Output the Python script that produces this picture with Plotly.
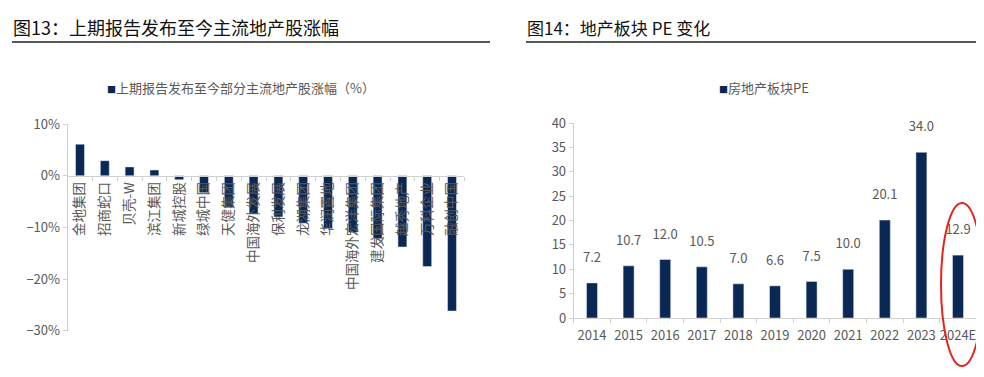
import plotly.graph_objects as go

# ---- data ----
stocks = ["金地集团", "招商蛇口", "贝壳-W", "滨江集团", "新城控股", "绿城中国", "天健集团",
          "中国海外发展", "保利发展", "龙湖集团", "华润置地", "中国海外宏洋集团", "建发国际集团",
          "越秀地产", "万科企业", "融创中国"]
stock_change = [6.1, 2.9, 1.7, 1.1, -0.8, -3.3, -6.2, -7.4, -8.0, -9.2, -10.2, -11.0, -12.2,
                -13.8, -17.6, -26.2]
left_yticks = [10, 0, -10, -20, -30]
left_yticktext = ["10%", "0%", "\u221210%", "\u221220%", "\u221230%"]

years = ["2014", "2015", "2016", "2017", "2018", "2019", "2020", "2021", "2022", "2023", "2024E"]
pe = [7.2, 10.7, 12.0, 10.5, 7.0, 6.6, 7.5, 10.0, 20.1, 34.0, 12.9]
right_yticks = [0, 5, 10, 15, 20, 25, 30, 35, 40]

NAVY = "#0b2855"
GRAY = "#595959"
AX = "#d0d0d0"
FONT = "Noto Sans CJK SC, Noto Sans, sans-serif"
W, H = 984, 377
OFF = 8  # page body margin offset

def px_y(py):
    return 1 - (py - OFF) / H

def px_x(pxx):
    return (pxx - OFF) / W

fig = go.Figure()

fig.add_trace(go.Bar(x=stocks, y=stock_change, marker_color=NAVY, width=0.36,
                     xaxis="x", yaxis="y", showlegend=False))
fig.add_trace(go.Bar(x=years, y=pe, marker_color=NAVY, width=0.3,
                     text=[f"{v:.1f}<br><span style='font-size:3px'> </span>" for v in pe],
                     textposition="outside", constraintext="none",
                     textfont=dict(size=13, color=GRAY, family=FONT), cliponaxis=False,
                     xaxis="x2", yaxis="y2", showlegend=False))

# left plot geometry
ly0, ly1 = px_y(330.7), px_y(124)
ylo, yhi = -30, 10
zero_pos = ly0 + (0 - ylo) / (yhi - ylo) * (ly1 - ly0)

fig.update_layout(
    width=W, height=H, autosize=False,
    margin=dict(l=0, r=0, t=0, b=0, pad=0, autoexpand=False),
    paper_bgcolor="white", plot_bgcolor="white",
    font=dict(family=FONT, color=GRAY, size=12),
    xaxis=dict(domain=[px_x(67.6), px_x(464.4)], anchor="free", position=zero_pos,
               showline=True, linecolor=AX, linewidth=1, ticks="outside", ticklen=4,
               tickcolor=AX, tickson="boundaries", tickangle=-90, automargin=False,
               tickfont=dict(size=13.5, color=GRAY, family=FONT), showgrid=False,
               layer="above traces"),
    yaxis=dict(domain=[ly0, ly1], range=[ylo, yhi], tickvals=left_yticks,
               ticktext=left_yticktext, automargin=False,
               showline=True, linecolor=AX, ticks="outside", ticklen=4,
               tickcolor=AX, showgrid=False, zeroline=False,
               tickfont=dict(size=13, color=GRAY, family=FONT), anchor="x"),
    xaxis2=dict(domain=[px_x(573.7), px_x(976.3)], anchor="y2", tickangle=0,
                automargin=False, ticklabelstandoff=5,
                showline=True, linecolor=AX, ticks="outside", ticklen=4, tickcolor=AX,
                tickson="boundaries", showgrid=False,
                tickfont=dict(size=13, color=GRAY, family=FONT)),
    yaxis2=dict(domain=[px_y(318), px_y(123)], range=[0, 40], tickvals=right_yticks,
                automargin=False,
                showline=True, linecolor=AX, ticks="outside", ticklen=4, tickcolor=AX,
                showgrid=False, zeroline=False, anchor="x2",
                tickfont=dict(size=13, color=GRAY, family=FONT)),
)

shapes = [
    dict(type="line", xref="paper", yref="paper", x0=px_x(12), x1=px_x(490),
         y0=px_y(42), y1=px_y(42), line=dict(color="#222222", width=1.5)),
    dict(type="line", xref="paper", yref="paper", x0=px_x(526), x1=px_x(984),
         y0=px_y(42), y1=px_y(42), line=dict(color="#222222", width=1.5)),
    dict(type="circle", xref="paper", yref="paper", x0=px_x(941), x1=px_x(983),
         y0=px_y(366), y1=px_y(203), line=dict(color="#e8231e", width=2)),
]
fig.update_layout(shapes=shapes)

annotations = [
    dict(text="图13：上期报告发布至今主流地产股涨幅", xref="paper", yref="paper",
         x=px_x(11), y=px_y(27), xanchor="left", yanchor="middle", showarrow=False,
         font=dict(size=18, color="#111111", family=FONT)),
    dict(text="图14：地产板块 PE 变化", xref="paper", yref="paper",
         x=px_x(525), y=px_y(27), xanchor="left", yanchor="middle", showarrow=False,
         font=dict(size=17, color="#111111", family=FONT)),
    dict(text=f"<span style='color:{NAVY};font-size:9px'>■</span>上期报告发布至今部分主流地产股涨幅（%）",
         xref="paper", yref="paper", x=px_x(105), y=px_y(87), xanchor="left",
         yanchor="middle", showarrow=False, font=dict(size=13, color=GRAY, family=FONT)),
    dict(text=f"<span style='color:{NAVY};font-size:9px'>■</span>房地产板块PE",
         xref="paper", yref="paper", x=px_x(717), y=px_y(87), xanchor="left",
         yanchor="middle", showarrow=False, font=dict(size=13, color=GRAY, family=FONT)),
]
fig.update_layout(annotations=annotations)

fig.write_html("out.html")
